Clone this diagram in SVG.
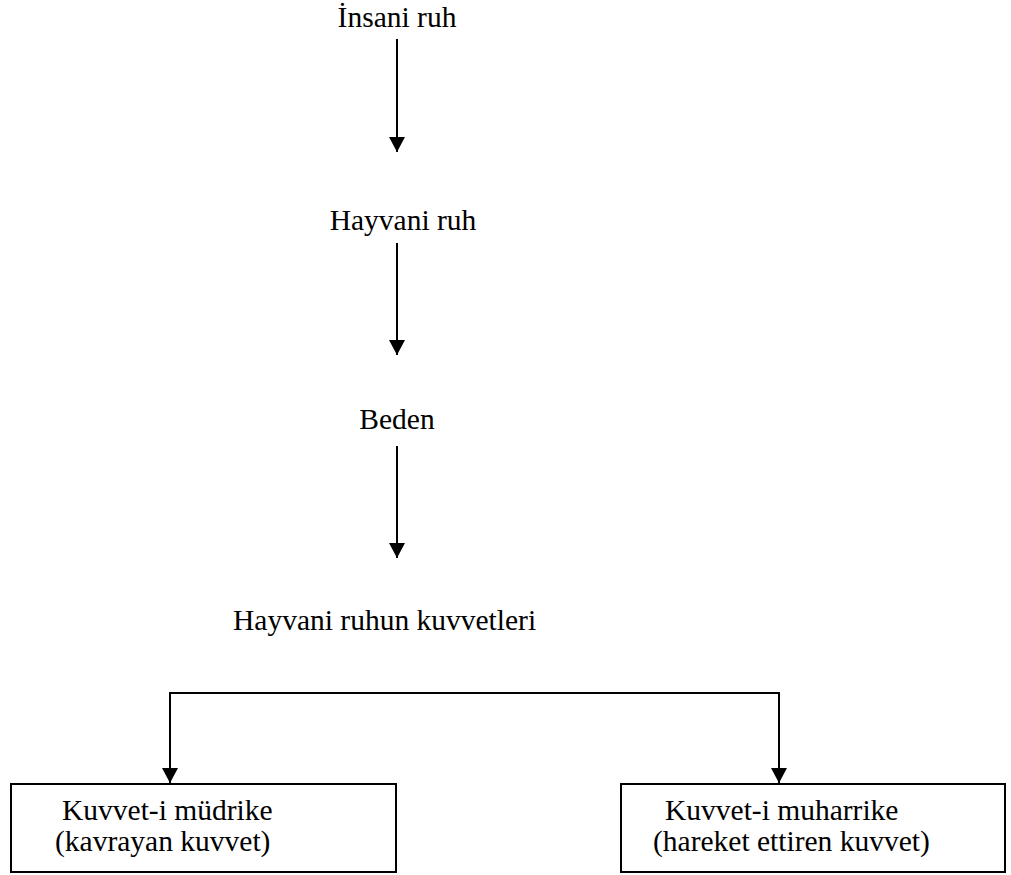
<svg xmlns="http://www.w3.org/2000/svg" width="1011" height="875" viewBox="0 0 1011 875">
  <defs>
    <style>
      .lbl { font-family: "Liberation Serif", "Times New Roman", serif; font-size: 29.5px; fill: #000; }
      .mid { text-anchor: middle; }
      .box { fill: #fff; stroke: #000; stroke-width: 2; }
      .wire { fill: none; stroke: #000; stroke-width: 2; }
    </style>
    <marker id="head" markerUnits="userSpaceOnUse" markerWidth="16" markerHeight="16" viewBox="0 0 16 16" refX="15" refY="8" orient="auto">
      <path d="M0,0 L15,8 L0,16 Z" fill="#000"/>
    </marker>
  </defs>

  <g id="insani-ruh">
    <text class="lbl mid" x="397" y="27">İnsani ruh</text>
  </g>
  <g id="hayvani-ruh">
    <text class="lbl mid" x="403" y="230">Hayvani ruh</text>
  </g>
  <g id="beden">
    <text class="lbl mid" x="397" y="429">Beden</text>
  </g>
  <g id="kuvvetler">
    <text class="lbl" x="233" y="630">Hayvani ruhun kuvvetleri</text>
  </g>
  <g id="mudrike">
    <rect class="box" x="11" y="784" width="385" height="88"/>
    <text class="lbl" x="62" y="820">Kuvvet-i müdrike</text>
    <text class="lbl" x="55" y="851">(kavrayan kuvvet)</text>
  </g>
  <g id="muharrike">
    <rect class="box" x="621" y="784" width="384" height="88"/>
    <text class="lbl" x="665" y="820">Kuvvet-i muharrike</text>
    <text class="lbl" x="653" y="851">(hareket ettiren kuvvet)</text>
  </g>

  <g id="connectors">
    <line class="wire" x1="397" y1="39" x2="397" y2="152" marker-end="url(#head)"/>
    <line class="wire" x1="397" y1="243" x2="397" y2="355" marker-end="url(#head)"/>
    <line class="wire" x1="397" y1="446" x2="397" y2="558" marker-end="url(#head)"/>
    <polyline class="wire" points="170,783 170,693 779,693 779,783" />
    <line class="wire" x1="170" y1="760" x2="170" y2="783" marker-end="url(#head)"/>
    <line class="wire" x1="779" y1="760" x2="779" y2="783" marker-end="url(#head)"/>
  </g>
</svg>
